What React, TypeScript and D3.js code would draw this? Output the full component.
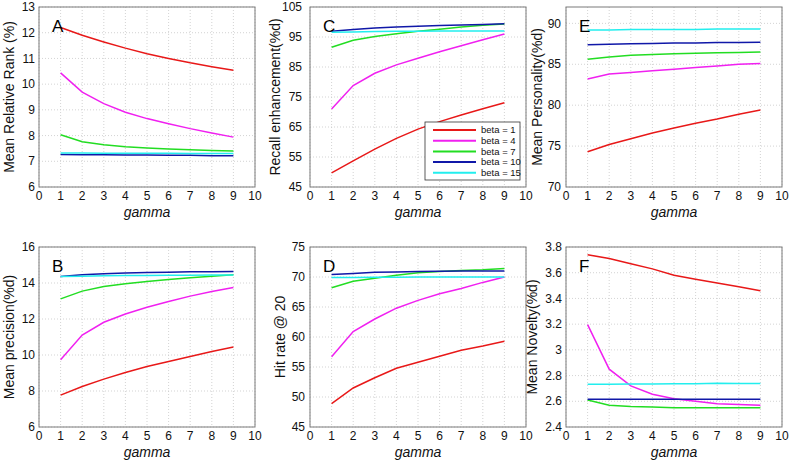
import React from "react";
import * as d3 from "d3";

// x values shared by every panel
const gamma = [1, 2, 3, 4, 5, 6, 7, 8, 9];
const betaLabels = ["beta = 1", "beta = 4", "beta = 7", "beta = 10", "beta = 15"];
const betaColors = ["#e81818", "#f020f0", "#22dd22", "#1018a8", "#22eeee"];

// one row per beta (1, 4, 7, 10, 15)
const meanRelativeRank = [
  [12.2, 11.9, 11.64, 11.4, 11.18, 11.0, 10.83, 10.68, 10.54],
  [10.44, 9.69, 9.24, 8.91, 8.66, 8.46, 8.27, 8.1, 7.94],
  [8.03, 7.76, 7.64, 7.57, 7.52, 7.48, 7.45, 7.42, 7.4],
  [7.26, 7.25, 7.25, 7.24, 7.24, 7.23, 7.23, 7.22, 7.22],
  [7.32, 7.32, 7.31, 7.31, 7.31, 7.31, 7.3, 7.3, 7.3],
];
const recallEnhancement = [
  [49.7, 53.7, 57.6, 61.2, 64.3, 66.8, 69.0, 71.1, 73.1],
  [71.0, 78.8, 82.9, 85.7, 87.9, 90.1, 92.1, 94.1, 96.0],
  [91.6, 93.9, 95.2, 96.1, 96.9, 97.6, 98.3, 98.9, 99.3],
  [96.9, 97.5, 98.0, 98.3, 98.6, 98.8, 99.0, 99.2, 99.4],
  [96.6, 96.7, 96.8, 96.9, 96.9, 97.0, 97.0, 97.0, 97.0],
];
const meanPersonality = [
  [74.3, 75.2, 75.9, 76.6, 77.2, 77.8, 78.3, 78.9, 79.4],
  [83.2, 83.8, 84.0, 84.2, 84.4, 84.6, 84.8, 85.0, 85.1],
  [85.6, 85.9, 86.1, 86.2, 86.3, 86.35, 86.4, 86.45, 86.5],
  [87.4, 87.45, 87.5, 87.55, 87.6, 87.6, 87.65, 87.65, 87.7],
  [89.2, 89.2, 89.25, 89.25, 89.25, 89.25, 89.3, 89.3, 89.3],
];
const meanPrecision = [
  [7.77, 8.25, 8.66, 9.03, 9.36, 9.64, 9.92, 10.2, 10.44],
  [9.74, 11.11, 11.82, 12.28, 12.65, 12.97, 13.27, 13.53, 13.75],
  [13.12, 13.55, 13.8, 13.96, 14.09, 14.2, 14.29, 14.38, 14.46],
  [14.36, 14.46, 14.51, 14.55, 14.58, 14.6, 14.62, 14.63, 14.64],
  [14.36, 14.38, 14.4, 14.41, 14.42, 14.43, 14.43, 14.44, 14.44],
];
const hitRate20 = [
  [48.9, 51.5, 53.2, 54.8, 55.8, 56.8, 57.8, 58.5, 59.3],
  [56.7, 60.9, 63.0, 64.8, 66.1, 67.2, 68.1, 69.1, 70.0],
  [68.2, 69.3, 69.8, 70.3, 70.7, 70.9, 71.1, 71.2, 71.4],
  [70.4, 70.6, 70.8, 70.85, 70.9, 70.95, 71.0, 71.0, 71.0],
  [69.9, 69.9, 69.95, 69.95, 70.0, 70.0, 70.0, 70.0, 70.0],
];
const meanNovelty = [
  [3.74, 3.71, 3.67, 3.63, 3.58, 3.55, 3.52, 3.49, 3.46],
  [3.196, 2.85, 2.72, 2.655, 2.62, 2.6, 2.58, 2.575, 2.57],
  [2.61, 2.57, 2.56, 2.555, 2.55, 2.55, 2.55, 2.55, 2.55],
  [2.615, 2.615, 2.615, 2.615, 2.615, 2.615, 2.615, 2.615, 2.615],
  [2.732, 2.733, 2.735, 2.735, 2.736, 2.736, 2.74, 2.738, 2.738],
];

const xTicks = [0, 1, 2, 3, 4, 5, 6, 7, 8, 9, 10];

const panels = [
  { letter: "A", label: "Mean Relative Rank (%)", data: meanRelativeRank, domain: [6, 13], ticks: d3.range(6, 13.01, 1), left: 39, top: 7, labelOff: 30, tickGap: 4 },
  { letter: "C", label: "Recall enhancement(%d)", data: recallEnhancement, domain: [45, 105], ticks: d3.range(45, 105.1, 10), left: 310, top: 7, labelOff: 35, tickGap: 8, legend: true },
  { letter: "E", label: "Mean Personality(%d)", data: meanPersonality, domain: [70, 92], ticks: d3.range(70, 90.1, 5), left: 566, top: 7, labelOff: 29, tickGap: 5 },
  { letter: "B", label: "Mean precision(%d)", data: meanPrecision, domain: [6, 16], ticks: d3.range(6, 16.1, 2), left: 39, top: 247, labelOff: 30, tickGap: 4 },
  { letter: "D", label: "Hit rate @ 20", data: hitRate20, domain: [45, 75], ticks: d3.range(45, 75.1, 5), left: 310, top: 247, labelOff: 30, tickGap: 5 },
  { letter: "F", label: "Mean Novelty(%d)", data: meanNovelty, domain: [2.4, 3.8], ticks: d3.range(2.4, 3.81, 0.2), left: 566, top: 247, labelOff: 34, tickGap: 4 },
];

const W = 216;
const H = 180;
const font = "Arial, 'Liberation Sans', sans-serif";

function Panel({ p }) {
  const x = d3.scaleLinear().domain([0, 10]).range([0, W]);
  const y = d3.scaleLinear().domain(p.domain).range([H, 0]);
  const line = d3.line().x((d) => x(d[0])).y((d) => y(d[1]));
  const fmt = (v) => String(+v.toFixed(2));

  return (
    <g transform={`translate(${p.left},${p.top})`} fontFamily={font}>
      <rect width={W} height={H} fill="#fff" />
      {xTicks.map((t) => (
        <line key={"gx" + t} x1={x(t)} x2={x(t)} y1={0} y2={H} stroke="#c8c8c8" strokeWidth={0.8} strokeDasharray="1,2" />
      ))}
      {p.ticks.map((t) => (
        <line key={"gy" + t} x1={0} x2={W} y1={y(t)} y2={y(t)} stroke="#c8c8c8" strokeWidth={0.8} strokeDasharray="1,2" />
      ))}
      {p.data.map((row, i) => (
        <path
          key={i}
          d={line(gamma.map((g, j) => [g, row[j]]))}
          fill="none"
          stroke={betaColors[i]}
          strokeWidth={1.5}
        />
      ))}
      <rect width={W} height={H} fill="none" stroke="#7a7a7a" strokeWidth={1} />
      {xTicks.map((t) => (
        <text key={"tx" + t} x={x(t)} y={H + 13} fontSize={12} textAnchor="middle" fill="#111">
          {t}
        </text>
      ))}
      {p.ticks.map((t) => (
        <text key={"ty" + t} x={-p.tickGap} y={y(t)} dy="0.35em" fontSize={12} textAnchor="end" fill="#111">
          {fmt(t)}
        </text>
      ))}
      <text x={W / 2} y={H + 30} fontSize={14} fontStyle="italic" textAnchor="middle" fill="#111">
        gamma
      </text>
      <text
        transform={`translate(${-p.labelOff + 5},${H / 2}) rotate(-90)`}
        fontSize={14}
        textAnchor="middle"
        fill="#111"
      >
        {p.label}
      </text>
      <text x={13} y={25} fontSize={17} fill="#000">
        {p.letter}
      </text>
      {p.legend && (
        <g transform={`translate(${115},${115})`}>
          <rect width={95} height={58} fill="#fff" stroke="#333" strokeWidth={0.8} />
          {betaLabels.map((b, i) => (
            <g key={b} transform={`translate(0,${8 + i * 10.7})`}>
              <line x1={8} x2={51} y1={0} y2={0} stroke={betaColors[i]} strokeWidth={2} />
              <text x={56} y={0} dy="0.35em" fontSize={9.5} fill="#111">
                {b}
              </text>
            </g>
          ))}
        </g>
      )}
    </g>
  );
}

export default function App() {
  return (
    <svg width={791} height={464} style={{ position: "absolute", left: 0, top: 0, background: "#fff" }}>
      {panels.map((p) => (
        <Panel key={p.letter} p={p} />
      ))}
    </svg>
  );
}
